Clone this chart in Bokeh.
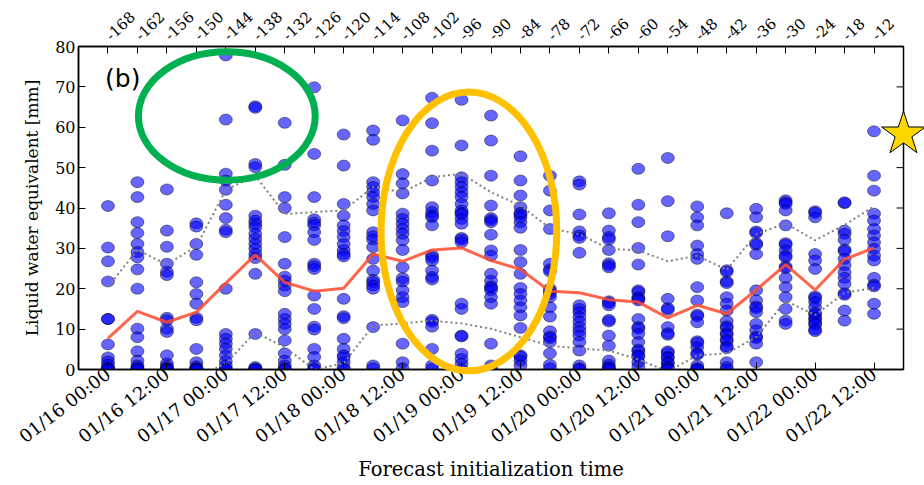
import numpy as np
from bokeh.plotting import figure
from bokeh.models import Range1d, LinearAxis, FixedTicker, Label, ColumnDataSource
from bokeh.embed import file_html
from bokeh.resources import INLINE

# ---------------- data ----------------
lead_hours = [-168, -162, -156, -150, -144, -138, -132, -126, -120, -114, -108, -102, -96,
              -90, -84, -78, -72, -66, -60, -54, -48, -42, -36, -30, -24, -18, -12]
top_labels = [str(h) for h in lead_hours]
init_hours = lead_hours[::2]
init_labels = ["01/16 00:00", "01/16 12:00", "01/17 00:00", "01/17 12:00", "01/18 00:00",
               "01/18 12:00", "01/19 00:00", "01/19 12:00", "01/20 00:00", "01/20 12:00",
               "01/21 00:00", "01/21 12:00", "01/22 00:00", "01/22 12:00"]

members = [
    [40.5, 30.2, 26.8, 21.8, 12.5, 12.5, 6.2, 3.0, 2.0, 1.2, 0.5, 0, 0, 0, 0, 0, 0, 0, 0, 0],
    [46.4, 42.7, 36.5, 33.8, 31.1, 29.1, 27.8, 24.8, 20.0, 10.1, 8.0, 4.5, 2.2, 1.0, 0.5, 0, 0, 0, 0, 0],
    [44.6, 34.4, 30.4, 26.2, 24.2, 23.4, 12.8, 12.2, 10.1, 9.3, 3.5, 1.5, 0.8, 0.3, 0, 0, 0, 0, 0, 0],
    [36.2, 35.4, 31.1, 28.4, 21.6, 18.7, 16.3, 12.8, 12.2, 5.1, 1.8, 0.8, 0.3, 0, 0, 0, 0, 0, 0, 0],
    [77.8, 61.9, 48.5, 46.8, 44.5, 40.8, 37.5, 34.6, 34.0, 20.0, 8.8, 7.6, 6.4, 5.1, 3.5, 2.1, 1.0, 0, 0, 0],
    [65.2, 64.8, 50.9, 50.1, 38.1, 36.9, 36.1, 35.2, 33.6, 32.4, 31.1, 29.9, 28.6, 27.6, 23.7, 8.8, 0.6, 0.2, 0, 0],
    [61.1, 50.7, 42.7, 40.0, 32.8, 26.2, 23.0, 22.0, 20.8, 19.4, 13.8, 12.5, 11.3, 10.0, 7.2, 4.0, 2.2, 1.0, 0.3, 0],
    [69.9, 53.4, 42.7, 37.2, 36.4, 35.7, 34.0, 32.1, 26.2, 25.6, 24.9, 18.3, 15.0, 10.6, 9.9, 5.1, 3.1, 1.0, 0.3, 0],
    [58.2, 50.5, 41.0, 38.1, 35.7, 34.3, 32.8, 31.1, 29.6, 28.6, 28.0, 17.5, 13.2, 12.7, 7.6, 5.1, 3.5, 3.0, 1.8, 0.5, 0],
    [59.2, 56.9, 46.4, 45.2, 43.9, 42.7, 41.0, 39.4, 34.0, 33.0, 32.2, 30.3, 27.4, 24.5, 22.2, 21.6, 20.8, 20.0, 10.5, 1.0, 0.3],
    [61.7, 48.4, 46.1, 43.6, 38.6, 37.3, 36.1, 34.8, 33.6, 32.0, 29.6, 25.3, 22.6, 21.8, 19.6, 17.9, 16.7, 6.4, 1.8, 0.3],
    [67.3, 61.0, 54.2, 46.8, 40.2, 39.0, 38.2, 37.7, 35.7, 28.3, 27.7, 27.0, 24.5, 22.9, 22.3, 12.3, 11.8, 10.6, 5.1, 1.0, 0.2],
    [66.8, 55.5, 47.6, 46.4, 45.2, 43.9, 42.7, 41.0, 39.4, 38.8, 38.4, 37.3, 36.1, 32.6, 32.2, 31.5, 16.3, 15.0, 8.4, 8.2, 3.9, 2.6, 1.4, 0],
    [62.9, 56.7, 48.0, 40.6, 37.5, 37.0, 36.5, 33.4, 29.5, 28.2, 23.7, 22.0, 20.6, 20.2, 19.6, 17.9, 16.3, 6.4, 1.0, 0.3],
    [52.8, 46.8, 43.1, 40.2, 38.8, 38.4, 37.7, 36.5, 35.1, 29.6, 26.6, 23.7, 20.2, 18.7, 17.1, 15.4, 13.4, 10.3, 3.5, 3.2, 2.2, 1.0],
    [48.0, 44.3, 39.4, 34.8, 26.2, 24.8, 24.3, 20.0, 19.4, 18.7, 17.9, 15.4, 13.1, 9.5, 8.2, 7.8, 6.8, 4.0, 1.2, 0.3],
    [46.6, 45.8, 38.4, 34.2, 33.2, 32.6, 28.9, 15.9, 15.0, 14.2, 13.0, 11.8, 10.5, 9.5, 8.4, 6.8, 4.7, 1.0, 0.3, 0],
    [38.7, 34.4, 32.8, 32.2, 29.6, 26.3, 25.8, 25.3, 16.9, 16.5, 15.9, 12.3, 11.9, 8.4, 5.9, 2.2, 1.2, 0.6, 0.2, 0],
    [49.7, 40.8, 36.5, 30.1, 26.0, 19.6, 19.2, 17.9, 17.5, 17.1, 12.5, 10.5, 10.1, 8.8, 6.8, 4.9, 4.5, 3.5, 3.2, 1.8, 0.7],
    [52.4, 41.7, 33.0, 17.5, 15.2, 14.8, 10.5, 9.0, 8.6, 4.5, 4.1, 3.1, 2.9, 1.8, 1.5, 0.7, 0.3, 0, 0, 0],
    [40.4, 37.7, 35.7, 30.7, 28.6, 27.4, 20.4, 17.1, 13.6, 13.2, 11.7, 7.0, 6.6, 5.5, 4.0, 3.7, 1.0, 0.3, 0, 0],
    [38.7, 24.6, 24.2, 21.8, 21.4, 17.9, 16.3, 14.6, 12.0, 10.7, 10.3, 9.0, 8.6, 7.4, 7.0, 5.7, 5.3, 1.8, 0.6, 0],
    [39.8, 37.7, 34.2, 33.8, 31.3, 30.9, 28.6, 19.6, 17.1, 15.6, 15.2, 14.2, 11.3, 9.7, 8.2, 7.8, 6.4, 1.8],
    [41.9, 41.4, 41.0, 39.4, 35.7, 31.3, 30.9, 29.5, 28.2, 27.8, 25.5, 25.1, 22.7, 20.4, 17.9, 15.0, 12.1, 11.3],
    [39.2, 38.8, 37.7, 28.6, 27.0, 24.9, 18.1, 17.7, 16.7, 15.4, 14.0, 13.6, 12.7, 12.3, 11.5, 11.1, 9.9, 9.5],
    [41.2, 41.4, 34.4, 33.6, 32.1, 29.7, 29.3, 27.4, 25.8, 24.1, 22.7, 21.2, 18.9, 18.5, 14.6, 12.1],
    [59.0, 48.0, 44.3, 38.6, 36.9, 34.8, 33.2, 31.5, 29.9, 28.2, 27.0, 22.7, 21.0, 20.6, 16.3, 13.8],
]

ens_mean = [7.7, 14.4, 11.7, 14.2, 21.4, 28.4, 21.6, 19.4, 20.1, 28.6, 26.8, 29.6, 30.1, 27.0,
            24.8, 19.4, 19.0, 17.3, 16.7, 12.8, 15.9, 13.8, 19.7, 26.0, 19.7, 27.3, 30.1]
upper = [20.5, 29.6, 26.0, 30.5, 44.5, 48.0, 38.5, 39.0, 39.4, 45.2, 43.9, 47.6, 48.5, 43.9,
         40.6, 35.0, 33.5, 29.9, 29.5, 26.8, 28.2, 24.7, 33.5, 36.2, 32.0, 35.8, 40.4]
lower = [-5.0, -1.0, -3.0, -2.0, 1.5, 9.2, 5.5, 0.0, 1.5, 10.9, 11.4, 12.1, 11.4, 10.1,
         8.0, 5.9, 5.2, 4.7, 2.5, -0.5, 3.5, 4.0, 8.0, 17.0, 13.5, 19.0, 20.2]

obs_hour = [-6]
obs_value = [58.3]

# highlight ellipses: centre (h, mm), full width (h), full height (mm)
hl_x = [-143.8, -94.5]
hl_y = [62.8, 34.2]
hl_w = [36.0, 35.8]
hl_h = [31.8, 69.0]
hl_color = ["#00b050", "#ffc000"]

# ---------------- figure ----------------
SERIF = "DejaVu Serif"
X0, X1 = -174, -6

p = figure(width=924, height=485, x_range=Range1d(X0, X1), y_range=Range1d(0, 80),
           output_backend="svg", toolbar_location=None,
           x_axis_location=None, y_axis_location=None,
           min_border_left=78, min_border_right=21, min_border_top=46, min_border_bottom=116)
p.xgrid.visible = False
p.ygrid.visible = False
p.outline_line_color = "black"
p.outline_line_width = 1.5
p.background_fill_color = "white"
p.border_fill_color = "white"


def style_axis(ax):
    ax.major_tick_in = 7
    ax.major_tick_out = 0
    ax.minor_tick_in = 0
    ax.minor_tick_out = 0
    ax.axis_line_color = "black"
    ax.axis_line_width = 1.5
    ax.major_tick_line_color = "black"
    ax.major_tick_line_width = 1
    ax.major_label_text_font = SERIF
    ax.major_label_text_color = "black"
    ax.axis_label_text_font = SERIF
    ax.axis_label_text_font_style = "normal"
    ax.axis_label_text_color = "black"


yticks = list(range(0, 81, 10))

left = LinearAxis(ticker=FixedTicker(ticks=yticks), axis_label="Liquid water equivalent [mm]")
style_axis(left)
left.major_label_text_font_size = "16px"
left.major_label_standoff = 3
left.axis_label_text_font_size = "17px"
left.axis_label_standoff = 10
p.add_layout(left, "left")

bottom = LinearAxis(ticker=FixedTicker(ticks=init_hours),
                    major_label_overrides={h: s for h, s in zip(init_hours, init_labels)},
                    axis_label="Forecast initialization time")
style_axis(bottom)
bottom.major_label_text_font_size = "18px"
bottom.major_label_orientation = 0.66
bottom.major_label_standoff = 2
bottom.axis_label_text_font_size = "19.5px"
bottom.axis_label_standoff = 0
p.add_layout(bottom, "below")

top = LinearAxis(ticker=FixedTicker(ticks=lead_hours),
                 major_label_overrides={h: s for h, s in zip(lead_hours, top_labels)})
style_axis(top)
top.major_label_text_font_size = "15px"
top.major_label_orientation = 0.76
top.major_label_standoff = 9
p.add_layout(top, "above")

# right-hand spine ticks (inward), at the same levels as the left axis
tick_len = 7 / 29.5 * 6
p.segment(x0=[X1] * len(yticks), y0=yticks, x1=[X1 - tick_len] * len(yticks), y1=yticks,
          line_color="black", line_width=1)

# ensemble members
xs, ys = [], []
for h, vals in zip(lead_hours, members):
    xs.extend([h] * len(vals))
    ys.extend(vals)
src = ColumnDataSource(dict(x=xs, y=ys))
p.ellipse(x="x", y="y", width=13, height=11, width_units="screen", height_units="screen",
          source=src, fill_color="#0000ff", fill_alpha=0.6, line_color="black",
          line_alpha=0.55, line_width=0.8)

# spread lines and mean
p.line(lead_hours, upper, line_color="#808080", line_width=2, line_dash="2 3")
p.line(lead_hours, lower, line_color="#808080", line_width=2, line_dash="2 3")
p.line(lead_hours, ens_mean, line_color="#ff4a2a", line_width=3, line_alpha=0.85)

# highlight ellipses, drawn on the overlay level (not clipped by the frame)
p.ellipse(x=hl_x, y=hl_y, width=hl_w, height=hl_h, fill_color=None, line_color=hl_color,
          line_width=7, level="overlay")

# observed value star, on the right spine
p.scatter(obs_hour, obs_value, marker="star", size=46, fill_color="#ffd700",
          fill_alpha=1, line_color="black", line_width=1, level="overlay")

p.add_layout(Label(x=-168.6, y=68.5, text="(b)", text_font="DejaVu Sans",
                   text_font_size="25px", text_color="black"))

open("out.html", "w").write(file_html(p, INLINE))
